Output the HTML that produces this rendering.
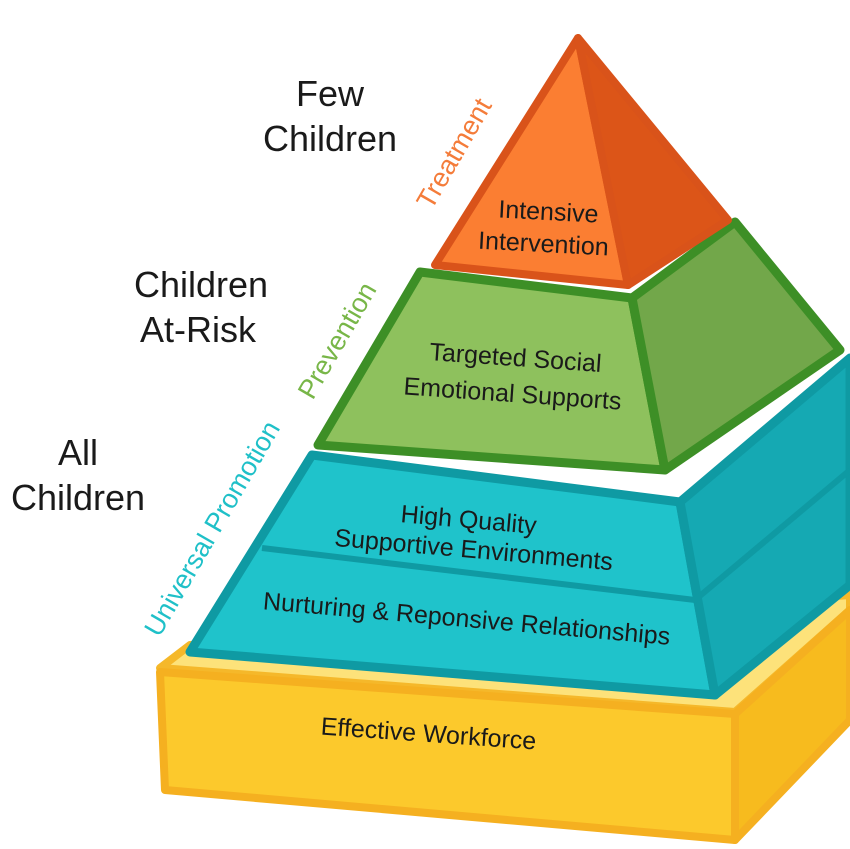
<!DOCTYPE html>
<html><head><meta charset="utf-8"><style>
html,body{margin:0;padding:0;background:#fff;}
svg{display:block}
text{font-family:"Liberation Sans","DejaVu Sans",sans-serif;}
</style></head><body>
<svg width="850" height="849" viewBox="0 0 850 849" xmlns="http://www.w3.org/2000/svg">
<!-- Yellow base -->
<polygon points="160,668 190,645 850,595 850,610 735,712" fill="#fde27a" stroke="#f5b82a" stroke-width="8" stroke-linejoin="round"/>
<polygon points="160,672 735,714 735,840 165,790" fill="#fcc92c" stroke="#f5b020" stroke-width="8" stroke-linejoin="round"/>
<polygon points="735,714 850,610 850,720 735,840" fill="#f7bb1e" stroke="#f5b020" stroke-width="8" stroke-linejoin="round"/>
<!-- Teal tier -->
<polygon points="312,455 680,502 715,695 190,652" fill="#1fc3cb" stroke="#0f9aa3" stroke-width="9" stroke-linejoin="round"/>
<polygon points="680,502 850,358 850,585 715,695" fill="#15a9b3" stroke="#0f9aa3" stroke-width="9" stroke-linejoin="round"/>
<path d="M262,548 L695,600 L850,470" fill="none" stroke="#0f9aa3" stroke-width="6"/>
<!-- Green tier -->
<polygon points="420,272 632,298 665,470 318,445" fill="#8ec15d" stroke="#3d8f26" stroke-width="9" stroke-linejoin="round"/>
<polygon points="632,298 735,222 840,350 665,470" fill="#72a74a" stroke="#3d8f26" stroke-width="9" stroke-linejoin="round"/>
<!-- Orange top -->
<polygon points="578,38 628,285 435,265" fill="#fb7e32" stroke="#d9531a" stroke-width="8" stroke-linejoin="round"/>
<polygon points="578,38 728,220 628,285" fill="#dc5518" stroke="#d9531a" stroke-width="8" stroke-linejoin="round"/>

<!-- Inner labels -->
<g fill="#1a1a1a" font-size="25">
<text x="548" y="220" text-anchor="middle" transform="rotate(3 548 220)">Intensive</text>
<text x="543" y="252" text-anchor="middle" transform="rotate(3 543 252)">Intervention</text>
<text x="515" y="366" text-anchor="middle" transform="rotate(4 515 366)">Targeted Social</text>
<text x="512" y="402" text-anchor="middle" transform="rotate(4 512 402)">Emotional Supports</text>
<text x="468" y="528" text-anchor="middle" transform="rotate(5 468 528)">High Quality</text>
<text x="473" y="558" text-anchor="middle" transform="rotate(5 473 558)">Supportive Environments</text>
<text x="466" y="627" text-anchor="middle" transform="rotate(5 466 627)">Nurturing &amp; Reponsive Relationships</text>
<text x="428" y="742" text-anchor="middle" transform="rotate(4 428 742)">Effective Workforce</text>
</g>
<!-- Side labels -->
<text x="462" y="158" font-size="27" fill="#f47c3a" text-anchor="middle" transform="rotate(-60 462 158)">Treatment</text>
<text x="345" y="345" font-size="27" fill="#78b648" text-anchor="middle" transform="rotate(-60 345 345)">Prevention</text>
<text x="220" y="533" font-size="27" fill="#1fc0c8" text-anchor="middle" transform="rotate(-60 220 533)">Universal Promotion</text>
<!-- Left labels -->
<g fill="#1a1a1a" font-size="36" text-anchor="middle">
<text x="330" y="106">Few</text>
<text x="330" y="151">Children</text>
<text x="201" y="297">Children</text>
<text x="198" y="342">At-Risk</text>
<text x="78" y="465">All</text>
<text x="78" y="510">Children</text>
</g>
</svg>
</body></html>
